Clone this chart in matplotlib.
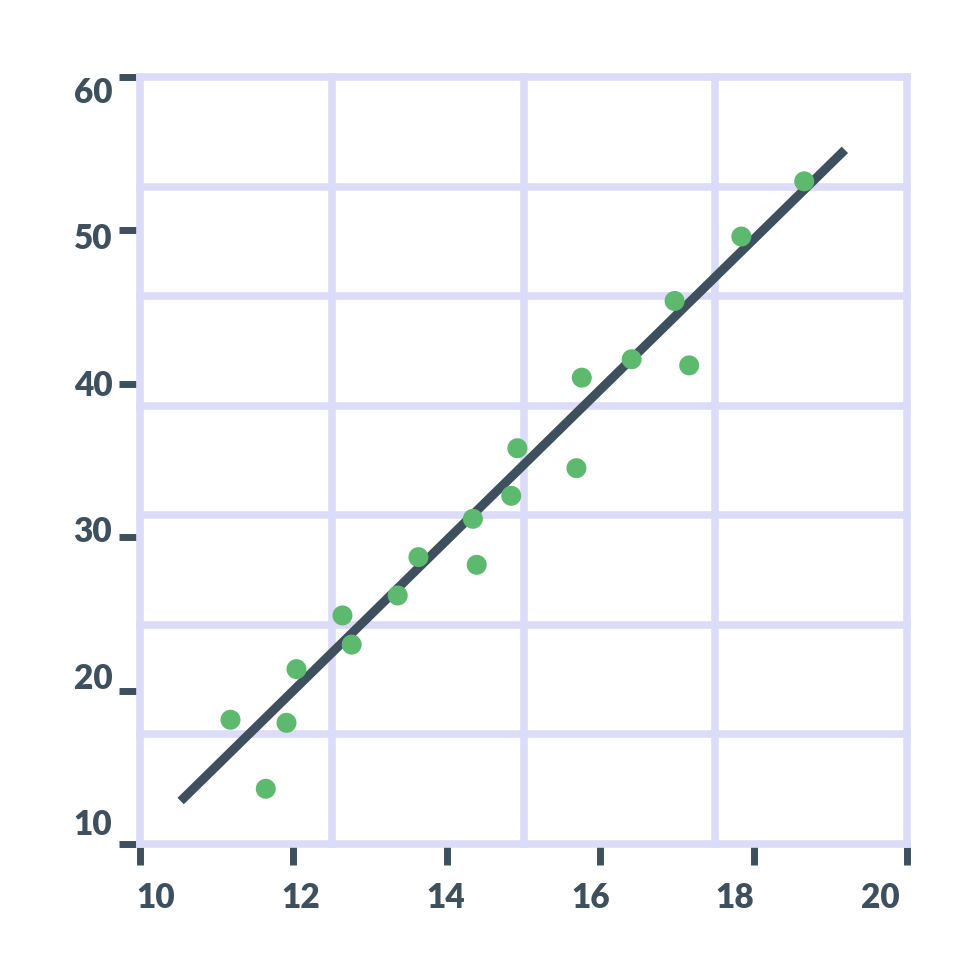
import matplotlib
matplotlib.use("Agg")
import matplotlib.pyplot as plt
import numpy as np

# ---- data ----
x_vals = [11.18, 11.64, 11.91, 12.04, 12.64, 12.76, 13.36, 13.63, 14.34, 14.39,
          14.84, 14.92, 15.69, 15.76, 16.41, 16.97, 17.16, 17.84, 18.66]
y_vals = [18.1, 13.6, 17.9, 21.4, 24.9, 23.0, 26.2, 28.7, 31.2, 28.2,
          32.7, 35.8, 34.5, 40.4, 41.6, 45.4, 41.2, 49.6, 53.2]
trend_x = [10.53, 19.19]
trend_y = [12.8, 55.25]
x_tick_vals = [10, 12, 14, 16, 18, 20]
y_tick_vals = [10, 20, 30, 40, 50, 60]
x_tick_labels = ["10", "12", "14", "16", "18", "20"]
y_tick_labels = ["10", "20", "30", "40", "50", "60"]

# ---- style ----
GRID = "#dcdcf8"
DARK = "#3e505d"
GREEN = "#5cb96e"
plt.rcParams['font.family'] = ['Lato', 'DejaVu Sans']

fig = plt.figure(figsize=(9.8, 9.8), dpi=100)
ax = fig.add_axes([140 / 980, 136 / 980, 767 / 980, 767 / 980])
ax.set_xlim(10, 20)
ax.set_ylim(10, 60)
for s in ax.spines.values():
    s.set_visible(False)

# grid (4 columns x 7 rows)
for gx in np.linspace(10, 20, 5):
    ax.axvline(gx, color=GRID, lw=5.5, zorder=1.6, clip_on=False,
               solid_capstyle='projecting')
for gy in np.linspace(10, 60, 8):
    ax.axhline(gy, color=GRID, lw=5.5, zorder=1.6, clip_on=False,
               solid_capstyle='projecting')

# trend line and points
ax.plot(trend_x, trend_y, color=DARK, lw=6.5, solid_capstyle='butt', zorder=3)
ax.scatter(x_vals, y_vals, s=207, color=GREEN, edgecolors='none', zorder=4)

# major ticks (marks only)
ax.set_xticks(x_tick_vals, labels=[""] * len(x_tick_vals))
ax.set_yticks(y_tick_vals, labels=[""] * len(y_tick_vals))
ax.tick_params(which='major', length=15, width=5, color=DARK, direction='out')

# labels (slightly compressed relative to the ticks, as in the reference)
ax.set_xticks(np.linspace(10.2, 19.65, len(x_tick_labels)), labels=x_tick_labels, minor=True)
ax.set_yticks(np.linspace(11.43, 59.15, len(y_tick_labels)), labels=y_tick_labels, minor=True)
ax.tick_params(which='minor', length=0, labelsize=24, labelcolor=DARK)
ax.tick_params(axis='x', which='minor', pad=27)
ax.tick_params(axis='y', which='minor', pad=20)
for lab in ax.get_xticklabels(minor=True) + ax.get_yticklabels(minor=True):
    lab.set_fontweight('heavy')

fig.savefig("out.png", dpi=100, facecolor='white')
